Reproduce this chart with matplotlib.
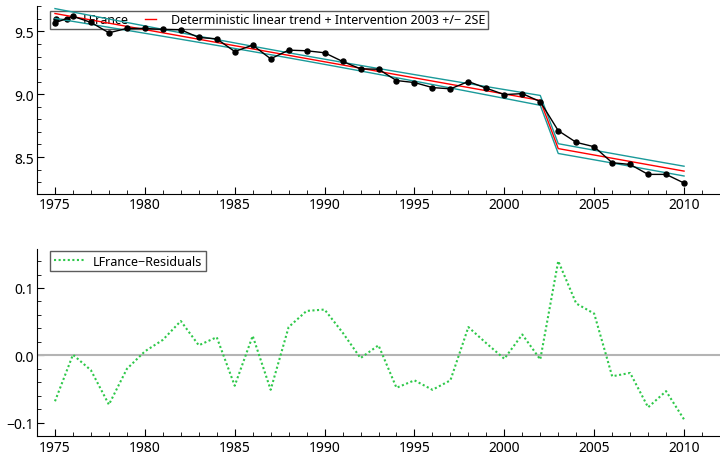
import numpy as np
import matplotlib
matplotlib.use('Agg')
from matplotlib import pyplot as plt
from matplotlib.ticker import MultipleLocator

plt.rcParams['font.family'] = ['Noto Sans', 'DejaVu Sans']

years = list(range(1975, 2011))
lfrance = [9.569, 9.620, 9.572, 9.489, 9.524, 9.524, 9.516, 9.513, 9.452, 9.441,
           9.340, 9.391, 9.282, 9.351, 9.346, 9.330, 9.261, 9.202, 9.199, 9.109,
           9.093, 9.053, 9.043, 9.101, 9.048, 8.997, 9.005, 8.941, 8.710, 8.617,
           8.582, 8.455, 8.441, 8.362, 8.362, 8.293]
residuals = [-0.068, 0.001, -0.022, -0.073, -0.020, 0.006, 0.023, 0.051, 0.015, 0.027,
             -0.045, 0.029, -0.051, 0.042, 0.066, 0.068, 0.034, -0.004, 0.015, -0.048,
             -0.037, -0.051, -0.037, 0.042, 0.018, -0.005, 0.031, -0.006, 0.140, 0.077,
             0.062, -0.031, -0.026, -0.077, -0.053, -0.095]
intervention_year = 2003

# deterministic trend + step dummy, fitted by OLS with +/- 2 SE of the fit
t = np.array(years, dtype=float)
y = np.array(lfrance)
X = np.column_stack([np.ones_like(t), t, (t >= intervention_year).astype(float)])
beta, rss, _, _ = np.linalg.lstsq(X, y, rcond=None)
fitted = X @ beta
s2 = np.sum((y - fitted) ** 2) / (len(y) - X.shape[1])
xtx_inv = np.linalg.inv(X.T @ X)
se_fit = np.sqrt(s2 * np.einsum('ij,jk,ik->i', X, xtx_inv, X))

fig = plt.figure(figsize=(7.2, 4.56), dpi=100)
ax1 = fig.add_axes([0.0514, 0.5724, 0.9486, 0.4116])
ax2 = fig.add_axes([0.0514, 0.041, 0.9486, 0.411])

teal = '#1a9a9a'
ax1.plot(years, fitted + 2 * se_fit, color=teal, lw=1.0, zorder=3)
ax1.plot(years, fitted - 2 * se_fit, color=teal, lw=1.0, zorder=3)
ax1.plot(years, lfrance, color='black', lw=1.0, marker='o', ms=3.6, label='LFrance', zorder=4)
ax1.plot(years, fitted, color='red', lw=1.0, zorder=3,
         label='Deterministic linear trend + Intervention 2003 +/\u2212 2SE')
ax1.set_ylim(8.206, 9.70)
ax1.yaxis.set_major_locator(MultipleLocator(0.5))
ax1.yaxis.set_minor_locator(MultipleLocator(0.1))
ax1.yaxis.set_major_formatter(plt.FuncFormatter(lambda v, p: f'{v:.1f}'))
leg1 = ax1.legend(loc='upper left', bbox_to_anchor=(0.019, 0.975), ncol=2, numpoints=2,
                  frameon=True, fancybox=False, edgecolor='#333333', fontsize=9,
                  handlelength=1.5, columnspacing=1.0, borderpad=0.2, handletextpad=0.9,
                  borderaxespad=0)
leg1.set_zorder(1)

ax2.axhline(0, color='#b4b4b4', lw=1.5)
ax2.plot(years, residuals, color='#2ec84a', lw=1.5, ls=(0, (1, 1.2)),
         label='LFrance\u2212Residuals', zorder=3)
ax2.set_ylim(-0.12, 0.158)
ax2.yaxis.set_major_locator(MultipleLocator(0.1))
ax2.yaxis.set_minor_locator(MultipleLocator(0.02))
ax2.yaxis.set_major_formatter(plt.FuncFormatter(lambda v, p: f'{v:.1f}'.replace('-', '\u2212')))
leg2 = ax2.legend(loc='upper left', bbox_to_anchor=(0.019, 0.99), frameon=True, fancybox=False,
                  edgecolor='#333333', fontsize=9, handlelength=2.6, borderpad=0.3,
                  handletextpad=0.5, borderaxespad=0)
leg2.set_zorder(1)

for ax in (ax1, ax2):
    ax.set_xlim(1974, 2012)
    ax.xaxis.set_major_locator(MultipleLocator(5))
    ax.xaxis.set_minor_locator(MultipleLocator(1))
    ax.spines['top'].set_visible(False)
    ax.spines['right'].set_visible(False)
    ax.tick_params(which='major', direction='in', length=5, labelsize=10, pad=2.5)
    ax.tick_params(which='minor', direction='in', length=3)
    ax.patch.set_alpha(0)

fig.savefig('out.png', dpi=100)
